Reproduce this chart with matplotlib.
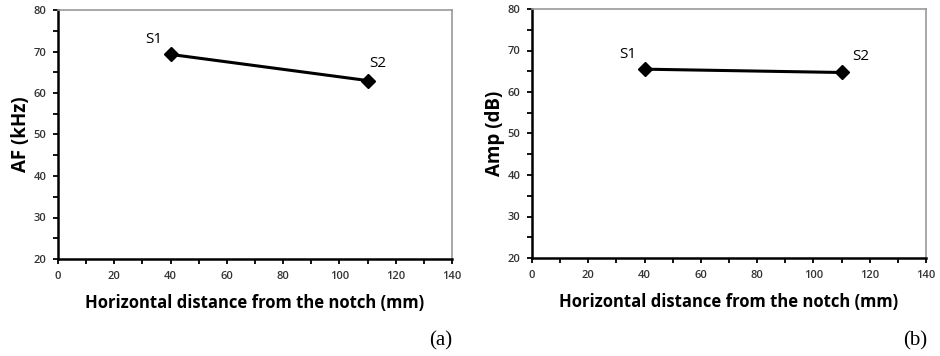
import matplotlib
matplotlib.use("Agg")
import matplotlib.pyplot as plt
from matplotlib.ticker import MultipleLocator

plt.rcParams['font.family'] = ['Open Sans', 'DejaVu Sans']

# distances from the notch (mm)
dist = [40, 110]
sensors = ["S1", "S2"]
af_khz = [69.3, 63.0]
amp_db = [65.5, 64.7]

panels = [
    (af_khz, "AF (kHz)", "(a)", [58, 10, 394, 249], [(-6, 5), (1, 7)]),
    (amp_db, "Amp (dB)", "(b)", [532, 9, 394, 249], [(-6, 5), (8, 6)]),
]

W, H = 940, 356
fig = plt.figure(figsize=(W / 100, H / 100), dpi=100)

for vals, ylab, tag, (x0, y0, w, h), offs in panels:
    ax = fig.add_axes([x0 / W, 1 - (y0 + h) / H, w / W, h / H])
    ax.plot(dist, vals, color="black", lw=2.2, marker="D", ms=7, clip_on=False)
    for xv, yv, s, (dx, dy) in zip(dist, vals, sensors, offs):
        ha = "right" if dx < 0 else "left"
        ax.annotate(s, (xv, yv), xytext=(dx, dy), textcoords="offset points",
                    ha=ha, va="bottom", fontsize=11)
    ax.set_xlim(0, 140)
    ax.set_ylim(20, 80)
    ax.xaxis.set_major_locator(MultipleLocator(20))
    ax.xaxis.set_minor_locator(MultipleLocator(10))
    ax.yaxis.set_major_locator(MultipleLocator(10))
    ax.yaxis.set_minor_locator(MultipleLocator(5))
    ax.tick_params(which="both", direction="out", length=3.5, width=1.3, labelsize=8,
                   labelcolor="#333333", pad=5)
    for lbl in ax.get_xticklabels() + ax.get_yticklabels():
        lbl.set_fontweight("semibold")
    for sp in ["top", "right"]:
        ax.spines[sp].set_color("#999999")
        ax.spines[sp].set_linewidth(1.2)
    for sp in ["left", "bottom"]:
        ax.spines[sp].set_linewidth(1.8)
    ax.set_xlabel("Horizontal distance from the notch (mm)", fontsize=12,
                  fontweight="bold", labelpad=9)
    ax.set_ylabel(ylab, fontsize=13.5, fontweight="bold", labelpad=2)
    fig.text((x0 + w) / W - 0.012, 1 - 341 / H, tag, ha="center", va="center",
             fontsize=15, family="Liberation Serif")

fig.savefig("out.png", dpi=100)
